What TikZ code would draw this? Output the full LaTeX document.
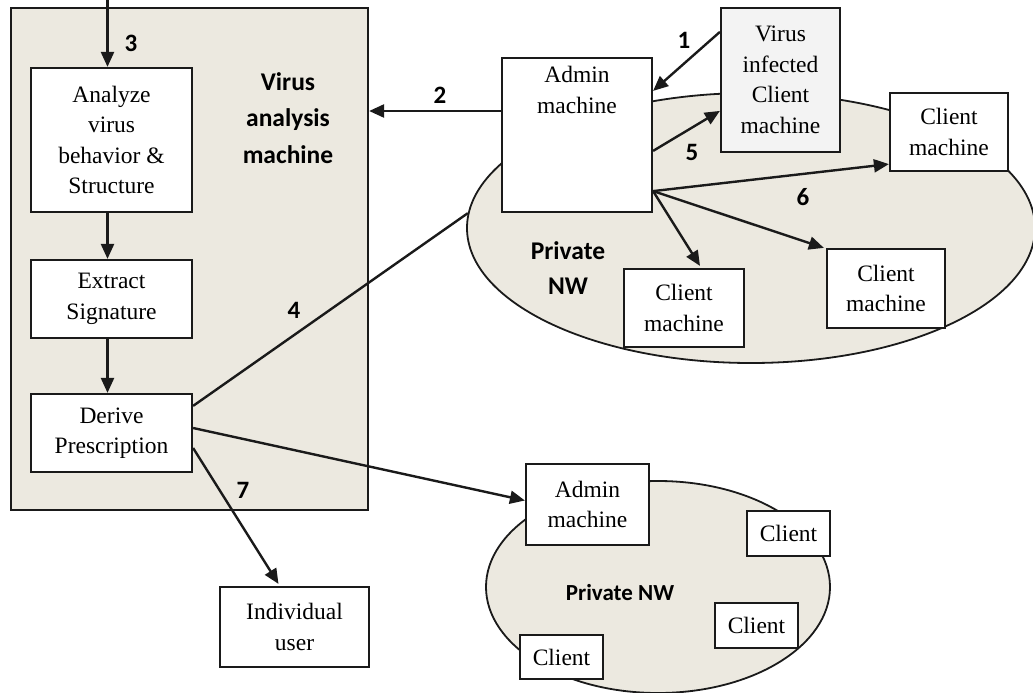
\documentclass[tikz,border=0pt]{standalone}
\usepackage{fontspec}
\setmainfont{Liberation Serif}
\newfontfamily\lblfont{Carlito}
\usetikzlibrary{arrows.meta,shapes.geometric,calc}
\definecolor{beige}{HTML}{ECE9E0}
\definecolor{lgray}{HTML}{F3F3F3}
\definecolor{ink}{HTML}{1A1A1A}
\tikzset{
  box/.style={draw=ink, line width=2.2pt, fill=white, inner sep=0pt, align=center,
    font=\fontsize{23.5}{30.5}\selectfont},
  btext/.style={inner sep=0pt, align=center, font=\fontsize{23.5}{30.5}\selectfont},
  num/.style={inner sep=0pt, font=\lblfont\bfseries\fontsize{25}{28}\selectfont},
  blbl/.style={inner sep=0pt, align=center, font=\lblfont\bfseries\fontsize{25.5}{36.5}\selectfont},
  net/.style={ellipse, draw=ink, line width=1.8pt, fill=beige, inner sep=0pt},
  arr/.style={draw=ink, line width=2.4pt, -{Triangle[length=15pt,width=13pt]}},
  ln/.style={draw=ink, line width=2.4pt},
}
\begin{document}
\begin{tikzpicture}[x=1pt,y=-1pt]
\useasboundingbox (0,0) rectangle (1033,693);
% virus analysis machine
\node[draw=ink, line width=2.2pt, fill=beige, minimum width=357pt, minimum height=502pt, inner sep=0pt] (vam) at (189.5,259) {};
\node[blbl] (vamt) at (288,118) {Virus\\analysis\\machine};
\node[box, minimum width=161pt, minimum height=144pt] (analyze) at (111.5,140) {Analyze\\virus\\behavior \&\\Structure};
\node[box, minimum width=161pt, minimum height=78pt] (extract) at (111.5,299) {Extract\\Signature};
\node[box, minimum width=161pt, minimum height=78pt] (derive) at (111.5,433) {Derive\\Prescription};
\node[box, minimum width=149pt, minimum height=80pt] (indiv) at (294.5,627) {Individual\\user};
% private network 1
\node[net, minimum width=568pt, minimum height=270pt] (net1) at (751,228) {};
\node[blbl, font=\lblfont\bfseries\fontsize{25.5}{35}\selectfont] (net1t) at (568,268) {Private\\NW};
\node[box, minimum width=150pt, minimum height=154pt] (admin) at (577,135) {};
\node[btext, anchor=north] (admint) at (577,66) {Admin\\machine};
\node[box, fill=lgray, minimum width=119pt, minimum height=144pt] (virus) at (780.5,80) {Virus\\infected\\Client\\machine};
\node[box, minimum width=118pt, minimum height=78pt] (cright) at (949,132) {Client\\machine};
\node[box, minimum width=118pt, minimum height=79pt] (cmid) at (886,288.5) {Client\\machine};
\node[box, minimum width=120pt, minimum height=78pt] (clow) at (684,308) {Client\\machine};
% private network 2
\node[net, minimum width=344pt, minimum height=212pt] (net2) at (658,587) {};
\node[blbl, font=\lblfont\bfseries\fontsize{23}{26}\selectfont] (net2t) at (620,593) {Private NW};
\node[box, minimum width=123pt, minimum height=81pt] (admin2) at (587.5,504.5) {Admin\\machine};
\node[box, minimum width=83pt, minimum height=45pt] (c1) at (788.5,533.5) {Client};
\node[box, minimum width=83pt, minimum height=45pt] (c2) at (756.5,625.5) {Client};
\node[box, minimum width=83pt, minimum height=44pt] (c3) at (561.5,657) {Client};
% connectors
\coordinate (in3) at (107.5,0);
\draw[arr] (in3) -- ([xshift=-4pt]analyze.north);
\draw[arr] ([xshift=-4pt]analyze.south) -- ([xshift=-4pt]extract.north);
\draw[arr] ([xshift=-4pt]extract.south) -- ([xshift=-4pt]derive.north);
\coordinate (a2) at ([yshift=24pt]admin.west);
\draw[arr] (a2) -- (vam.east |- a2);
\draw[arr] ([yshift=-25pt]virus.north west) -- ([yshift=-34pt]admin.north east);
\draw[arr] ([yshift=-94pt]admin.north east) -- ([yshift=-104pt]virus.north west);
\coordinate (a6) at ([yshift=22pt]admin.south east);
\draw[arr] (a6) -- ([yshift=8pt]cright.south west);
\draw[arr] (a6) -- ([xshift=-2pt]cmid.north west);
\draw[arr] (a6) -- ([xshift=16pt,yshift=2pt]clow.north);
\draw[ln] ([yshift=-13pt]derive.north east) -- (net1.177);
\draw[arr] ([yshift=5pt]derive.east) -- ([yshift=4pt]admin2.west);
\draw[arr] ([yshift=-15pt]derive.east) -- ([xshift=-16pt,yshift=2pt]indiv.north);
% step numbers
\node[num] (n1) at (684,40) {1};
\node[num] (n2) at (440,95) {2};
\node[num] (n3) at (131,43) {3};
\node[num] (n4) at (294,310) {4};
\node[num] (n5) at (692,152) {5};
\node[num] (n6) at (803,197) {6};
\node[num] (n7) at (243,490) {7};
\end{tikzpicture}
\end{document}
